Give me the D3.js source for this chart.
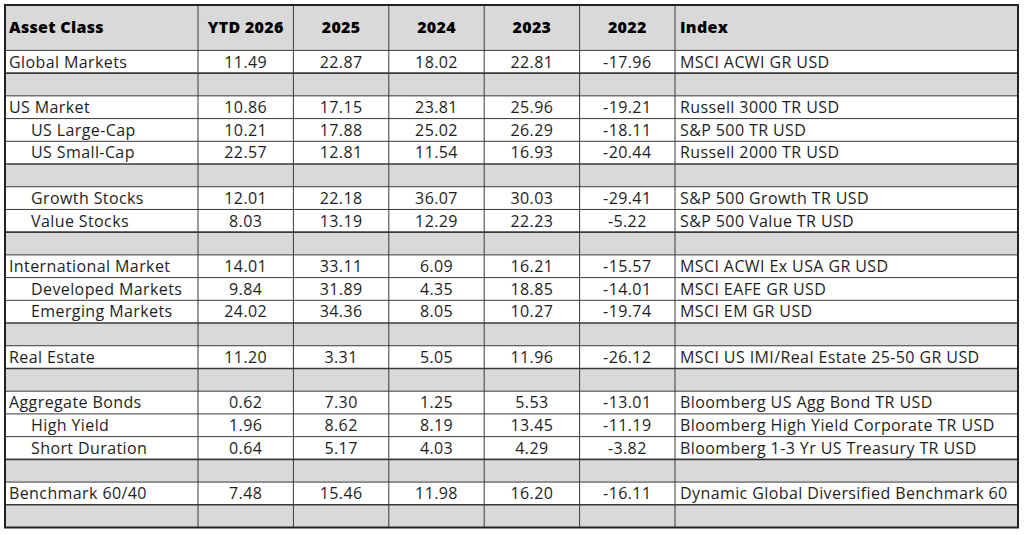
<!DOCTYPE html>
<html>
<head>
<meta charset="utf-8">
<script src="https://cdn.jsdelivr.net/npm/d3@7.9.0/dist/d3.min.js"></script>
<style>
  html, body { margin: 0; padding: 0; background: #fff; }
  svg { display: block; font-family: "Open Sans", Lato, sans-serif; }
</style>
</head>
<body>
<div id="chart"></div>
<script>
// column headers
const years = ['YTD 2026', '2025', '2024', '2023', '2022'];

// rows, null = grey spacer row
const assets = [
  'Global Markets', null,
  'US Market', 'US Large-Cap', 'US Small-Cap', null,
  'Growth Stocks', 'Value Stocks', null,
  'International Market', 'Developed Markets', 'Emerging Markets', null,
  'Real Estate', null,
  'Aggregate Bonds', 'High Yield', 'Short Duration', null,
  'Benchmark 60/40', null
];
const indented = [
  'US Large-Cap', 'US Small-Cap', 'Growth Stocks', 'Value Stocks',
  'Developed Markets', 'Emerging Markets', 'High Yield', 'Short Duration'
];
const returns = {
  'Global Markets':       ['11.49', '22.87', '18.02', '22.81', '-17.96'],
  'US Market':            ['10.86', '17.15', '23.81', '25.96', '-19.21'],
  'US Large-Cap':         ['10.21', '17.88', '25.02', '26.29', '-18.11'],
  'US Small-Cap':         ['22.57', '12.81', '11.54', '16.93', '-20.44'],
  'Growth Stocks':        ['12.01', '22.18', '36.07', '30.03', '-29.41'],
  'Value Stocks':         ['8.03',  '13.19', '12.29', '22.23', '-5.22'],
  'International Market': ['14.01', '33.11', '6.09',  '16.21', '-15.57'],
  'Developed Markets':    ['9.84',  '31.89', '4.35',  '18.85', '-14.01'],
  'Emerging Markets':     ['24.02', '34.36', '8.05',  '10.27', '-19.74'],
  'Real Estate':          ['11.20', '3.31',  '5.05',  '11.96', '-26.12'],
  'Aggregate Bonds':      ['0.62',  '7.30',  '1.25',  '5.53',  '-13.01'],
  'High Yield':           ['1.96',  '8.62',  '8.19',  '13.45', '-11.19'],
  'Short Duration':       ['0.64',  '5.17',  '4.03',  '4.29',  '-3.82'],
  'Benchmark 60/40':      ['7.48',  '15.46', '11.98', '16.20', '-16.11']
};
const indexNames = {
  'Global Markets':       'MSCI ACWI GR USD',
  'US Market':            'Russell 3000 TR USD',
  'US Large-Cap':         'S&P 500 TR USD',
  'US Small-Cap':         'Russell 2000 TR USD',
  'Growth Stocks':        'S&P 500 Growth TR USD',
  'Value Stocks':         'S&P 500 Value TR USD',
  'International Market': 'MSCI ACWI Ex USA GR USD',
  'Developed Markets':    'MSCI EAFE GR USD',
  'Emerging Markets':     'MSCI EM GR USD',
  'Real Estate':          'MSCI US IMI/Real Estate 25-50 GR USD',
  'Aggregate Bonds':      'Bloomberg US Agg Bond TR USD',
  'High Yield':           'Bloomberg High Yield Corporate TR USD',
  'Short Duration':       'Bloomberg 1-3 Yr US Treasury TR USD',
  'Benchmark 60/40':      'Dynamic Global Diversified Benchmark 60'
};

const W = 1024, H = 535;
const tLeft = 5, tRight = 1018, tTop = 5, tBottom = 527.5;
const assetEdge = 198, indexEdge = 675;
const headerUnits = 2;
const fontSize = 16;

const svg = d3.select('#chart').append('svg')
  .attr('width', W).attr('height', H);

// row units: header takes 2, each row takes 1
const y = d3.scaleLinear()
  .domain([0, headerUnits + assets.length])
  .range([tTop, tBottom]);
const x = d3.scaleBand().domain(years).range([assetEdge, indexEdge]);

const rowTop = i => y(headerUnits + i);
const rowMid = i => y(headerUnits + i + 0.5);

// backgrounds
svg.append('rect')
  .attr('x', tLeft).attr('y', tTop)
  .attr('width', tRight - tLeft).attr('height', y(headerUnits) - tTop)
  .attr('fill', '#d9d9d9');

svg.append('g').selectAll('rect')
  .data(assets.map((a, i) => ({ a, i })).filter(d => d.a === null))
  .join('rect')
    .attr('x', tLeft).attr('y', d => rowTop(d.i))
    .attr('width', tRight - tLeft).attr('height', y(1) - y(0))
    .attr('fill', '#d9d9d9');

// grid lines
const grid = svg.append('g').attr('stroke', '#3a3a3a').attr('stroke-width', 1);
d3.range(assets.length).forEach(i => {
  const yy = rowTop(i);
  grid.append('line')
    .attr('x1', tLeft).attr('x2', tRight)
    .attr('y1', yy).attr('y2', yy)
    .attr('stroke-width', assets[i] === null ? 1.6 : 1);
});
const vEdges = [assetEdge, ...years.slice(1).map(d => x(d)), indexEdge];
vEdges.forEach(xx => {
  grid.append('line')
    .attr('x1', xx).attr('x2', xx)
    .attr('y1', tTop).attr('y2', tBottom);
});

// outer border
svg.append('rect')
  .attr('x', tLeft).attr('y', tTop)
  .attr('width', tRight - tLeft).attr('height', tBottom - tTop)
  .attr('fill', 'none').attr('stroke', '#222').attr('stroke-width', 2);

// header text
const hy = y(headerUnits / 2);
const head = svg.append('g')
  .attr('font-weight', 800).attr('font-size', fontSize)
  .attr('letter-spacing', 0.3).attr('fill', '#000');
head.append('text').attr('x', tLeft + 4).attr('y', hy).attr('dy', '0.36em').text('Asset Class');
head.selectAll('.yr').data(years).join('text')
  .attr('class', 'yr')
  .attr('x', d => x(d) + x.bandwidth() / 2).attr('y', hy).attr('dy', '0.36em')
  .attr('text-anchor', 'middle').text(d => d);
head.append('text').attr('x', indexEdge + 5).attr('y', hy).attr('dy', '0.36em').text('Index');

// body text
const body = svg.append('g')
  .attr('font-size', fontSize).attr('letter-spacing', 0.4).attr('fill', '#1e1e1e');
const rows = assets.map((a, i) => ({ a, i })).filter(d => d.a !== null);

body.selectAll('.asset').data(rows).join('text')
  .attr('class', 'asset')
  .attr('x', d => tLeft + (indented.includes(d.a) ? 26 : 4))
  .attr('y', d => rowMid(d.i)).attr('dy', '0.36em')
  .text(d => d.a);

rows.forEach(d => {
  body.append('g').selectAll('text').data(returns[d.a]).join('text')
    .attr('x', (v, j) => x(years[j]) + x.bandwidth() / 2)
    .attr('y', rowMid(d.i)).attr('dy', '0.36em')
    .attr('text-anchor', 'middle')
    .text(v => v);
});

body.selectAll('.idx').data(rows).join('text')
  .attr('class', 'idx')
  .attr('x', indexEdge + 5)
  .attr('y', d => rowMid(d.i)).attr('dy', '0.36em')
  .text(d => indexNames[d.a]);
</script>
</body>
</html>
